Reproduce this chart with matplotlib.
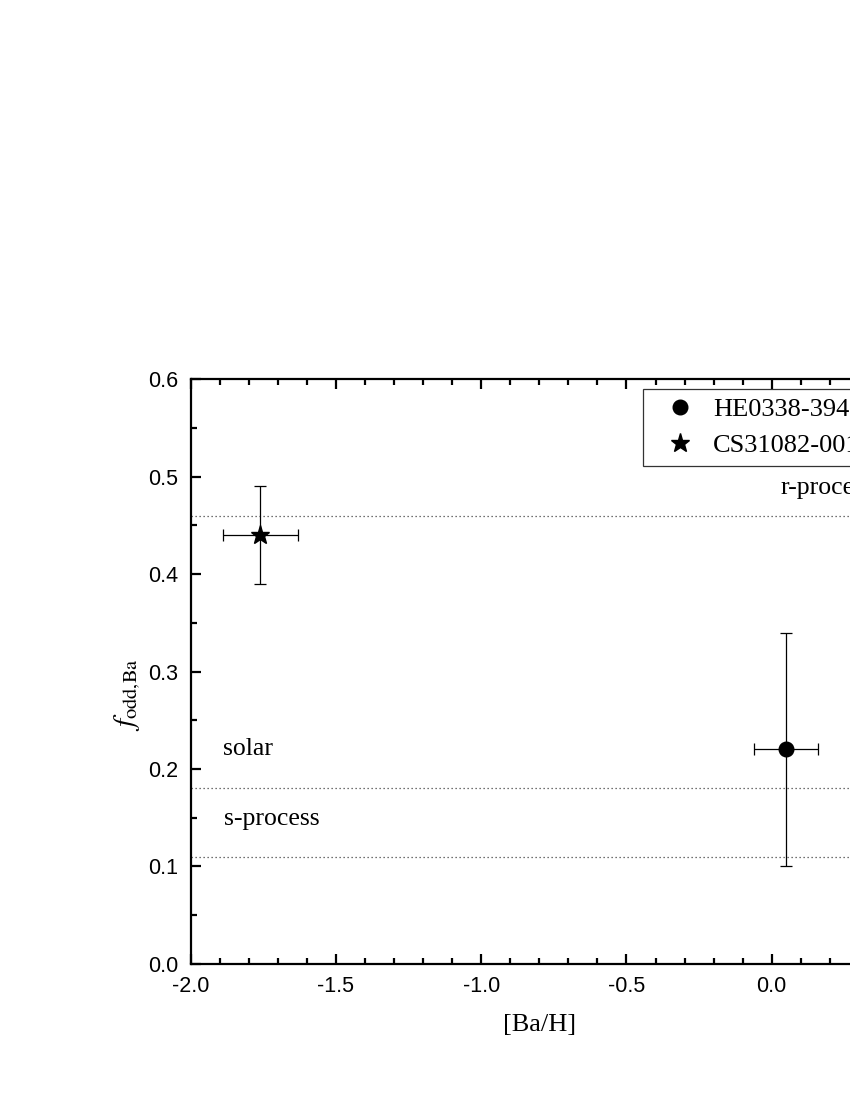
import numpy as np
import matplotlib
matplotlib.use('Agg')
import matplotlib.pyplot as plt
from matplotlib.ticker import MultipleLocator

plt.rcParams['mathtext.fontset'] = 'stix'

# data
star_names = ["HE0338-3945", "CS31082-001"]
ba_h = [0.05, -1.76]
ba_h_err = [0.11, 0.13]
f_odd = [0.22, 0.44]
f_odd_err = [0.12, 0.05]
markers = ["o", "*"]
marker_sizes = [10.5, 14]

ref_levels = [0.46, 0.18, 0.11]
ref_names = ["r-process", "solar", "s-process"]
ref_text_xy = [(0.03, 0.488), (-1.89, 0.22), (-1.885, 0.149)]

fig = plt.figure(figsize=(8.5, 11), dpi=100)
# axes runs past the right edge like the original crop
ax = fig.add_axes([190.7 / 850, 1 - 963.7 / 1100, 2.4 * 290.5 / 850, 584.4 / 1100])

for lvl in ref_levels:
    ax.axhline(lvl, color='#444444', lw=0.9, ls=(0, (1, 2.2)), zorder=1)
for name, (tx, ty) in zip(ref_names, ref_text_xy):
    ax.text(tx, ty, name, family='Liberation Serif', fontsize=18.5, va='center', ha='left')

for i in range(len(star_names)):
    ax.errorbar(ba_h[i], f_odd[i], xerr=ba_h_err[i], yerr=f_odd_err[i],
                fmt=markers[i], color='black', ms=marker_sizes[i], elinewidth=0.9,
                capsize=4.5, capthick=0.9, label=star_names[i], zorder=3)

ax.set_xlim(-2.0, 0.4)
ax.set_ylim(0.0, 0.6)
ax.xaxis.set_major_locator(MultipleLocator(0.5))
ax.xaxis.set_minor_locator(MultipleLocator(0.1))
ax.yaxis.set_major_locator(MultipleLocator(0.1))
ax.yaxis.set_minor_locator(MultipleLocator(0.05))
ax.xaxis.set_major_formatter(plt.FormatStrFormatter('%.1f'))
ax.yaxis.set_major_formatter(plt.FormatStrFormatter('%.1f'))
ax.tick_params(which='both', direction='in', top=True, right=True, width=1.6)
ax.tick_params(which='major', length=7.5, labelsize=15.5, pad=9)
ax.tick_params(which='minor', length=4)
for lab in ax.get_xticklabels() + ax.get_yticklabels():
    lab.set_family('Liberation Sans')
for sp in ax.spines.values():
    sp.set_linewidth(1.6)

ax.set_xlabel('[Ba/H]', family='Liberation Serif', fontsize=19, labelpad=12)
ax.set_ylabel(r'$f_{\rm odd{,}Ba}$', fontsize=21)
ax.yaxis.set_label_coords(-0.068, 0.46)

handles, labels = ax.get_legend_handles_labels()
handles = [h[0] for h in handles]
leg = ax.legend(handles, labels, loc='upper left', bbox_to_anchor=(0.6483, 0.9834),
                borderaxespad=0, prop={'family': 'Liberation Serif', 'size': 19},
                frameon=True, fancybox=False, edgecolor='black', handletextpad=0.15,
                borderpad=0.32, labelspacing=0.48, handlelength=2.2)
leg.get_frame().set_linewidth(0.9)

fig.savefig('out.png', dpi=100)
